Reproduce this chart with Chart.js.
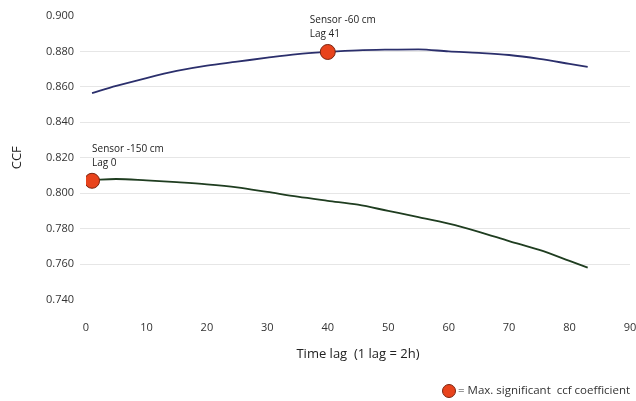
<!DOCTYPE html>
<html>
<head>
<meta charset="utf-8">
<script src="https://cdn.jsdelivr.net/npm/chart.js@4"></script>
<style>
  html, body { margin: 0; padding: 0; background: #fff; overflow: hidden; }
  #wrap { width: 636px; height: 401px; overflow: hidden; }
</style>
</head>
<body>
<div id="wrap"><canvas id="ccfChart" width="660" height="401"></canvas></div>
<script>
// lags
var lags = [1, 5, 10, 15, 20, 25, 30, 35, 40, 45, 50, 55, 60, 65, 70, 75, 80, 83];
// sensor -60 cm
var ccf60 = [0.8565, 0.8605, 0.865, 0.869, 0.872, 0.8742, 0.8765, 0.8785, 0.8797, 0.8806, 0.881, 0.8812, 0.8800, 0.8792, 0.878, 0.8758, 0.873, 0.8713];
// sensor -150 cm
var ccf150 = [0.8075, 0.808, 0.8072, 0.8062, 0.805, 0.8033, 0.8007, 0.798, 0.7957, 0.7935, 0.790, 0.7865, 0.7828, 0.7782, 0.773, 0.768, 0.7618, 0.758];
// max significant ccf points
var peakLag = [1, 40];
var peakCcf = [0.807, 0.8797];
var peakText = [["Sensor -150 cm", "Lag 0"], ["Sensor -60 cm", "Lag 41"]];
var yTicks = [0.74, 0.76, 0.78, 0.80, 0.82, 0.84, 0.86, 0.88, 0.90];

var FONT = "'Open Sans', 'DejaVu Sans', sans-serif";
var RED = "#e8431c";

function pts(xs, ys) {
  return xs.map(function (x, i) { return {x: x, y: ys[i]}; });
}

// labels next to the red markers + the little legend at the bottom
var notes = {
  id: "notes",
  afterDatasetsDraw: function (chart) {
    var c = chart.ctx, xs = chart.scales.x, ys = chart.scales.y;
    var offs = [[0, -32], [-18, -32]];
    c.save();
    c.fillStyle = "#222";
    c.font = "10px " + FONT;
    c.textBaseline = "middle";
    c.textAlign = "left";
    for (var i = 0; i < peakLag.length; i++) {
      var px = xs.getPixelForValue(peakLag[i]);
      var py = ys.getPixelForValue(peakCcf[i]);
      c.fillText(peakText[i][0], px + offs[i][0], py + offs[i][1]);
      c.fillText(peakText[i][1], px + offs[i][0], py + offs[i][1] + 14);
    }
    // legend
    c.beginPath();
    c.arc(449, 391, 6.5, 0, Math.PI * 2);
    c.fillStyle = RED;
    c.fill();
    c.strokeStyle = "#7a2410";
    c.lineWidth = 1;
    c.stroke();
    c.fillStyle = "#333";
    c.font = "11.5px " + FONT;
    c.fillText("= Max. significant  ccf coefficient", 458, 391);
    c.restore();
  }
};

new Chart("ccfChart", {
  type: "line",
  data: {
    datasets: [{
      data: pts(peakLag, peakCcf),
      showLine: false,
      pointRadius: 7.5,
      pointBackgroundColor: RED,
      pointBorderColor: "#7a2410",
      pointBorderWidth: 1,
      order: 0
    }, {
      data: pts(lags, ccf60),
      borderColor: "#2b2f6c",
      borderWidth: 1.8,
      pointRadius: 0,
      cubicInterpolationMode: "monotone",
      fill: false,
      order: 1
    }, {
      data: pts(lags, ccf150),
      borderColor: "#1f3d20",
      borderWidth: 1.8,
      pointRadius: 0,
      cubicInterpolationMode: "monotone",
      fill: false,
      order: 1
    }]
  },
  options: {
    responsive: false,
    animation: false,
    layout: {padding: {top: 16, right: 30, bottom: 0, left: 0}},
    plugins: {legend: {display: false}, tooltip: {enabled: false}},
    scales: {
      x: {
        type: "linear",
        min: 0, max: 90,
        afterFit: function (s) { s.height = 101.5; },
        grid: {display: false},
        border: {display: false},
        ticks: {stepSize: 10, padding: 14, color: "#333", font: {family: FONT, size: 11}},
        title: {display: true, text: "Time lag  (1 lag = 2h)", color: "#222",
                font: {family: FONT, size: 13}, padding: {top: 4, bottom: 39}}
      },
      y: {
        min: 0.74, max: 0.90,
        afterFit: function (s) { s.width = 86; },
        afterBuildTicks: function (s) { s.ticks = yTicks.map(function (v) { return {value: v}; }); },
        grid: {
          color: function (ctx) {
            return (ctx.index === 0 || ctx.index === yTicks.length - 1) ? "rgba(0,0,0,0)" : "#e6e6e6";
          },
          tickLength: 6
        },
        border: {display: false},
        ticks: {
          padding: 6, color: "#333", font: {family: FONT, size: 11},
          callback: function (v) { return v.toFixed(3); }
        },
        title: {display: true, text: "CCF", color: "#222",
                font: {family: FONT, size: 13}, padding: {top: 9, bottom: 0}}
      }
    }
  },
  plugins: [notes]
});
</script>
</body>
</html>
